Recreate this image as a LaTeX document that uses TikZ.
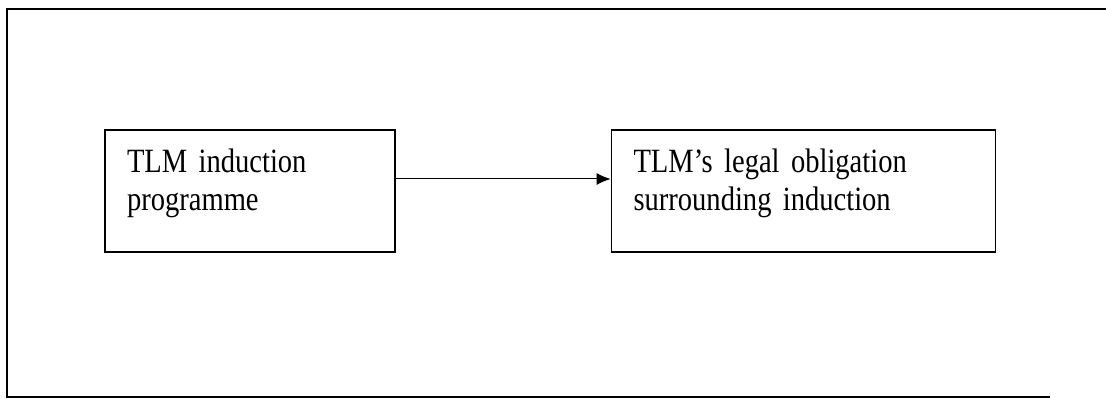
\documentclass[tikz,border=0pt]{standalone}
\usepackage{fontspec}
\setmainfont{Liberation Serif}[FakeStretch=0.84]
\usetikzlibrary{arrows.meta}

\begin{document}
\begin{tikzpicture}[x=0.5pt,y=-0.5pt,
  font=\fontsize{17}{19}\selectfont,
  box/.style={draw,line width=0.9pt,align=left,inner xsep=11pt,inner ysep=0pt,minimum height=61pt,text depth=30pt},
  arr/.style={-{Latex[length=7pt,width=6pt]},line width=0.5pt},
  frame/.style={line width=0.9pt}]
\useasboundingbox (0,0) rectangle (1106,399);
% outer frame, open on the right
\draw[frame] (1106,9) -- (7,9) -- (7,397) -- (1050,397);
\node[box,text width=123pt] (prog) at (250,191) {TLM induction\\programme};
\node[box,text width=170pt] (legal) at (803.5,191) {TLM's legal obligation\\surrounding induction};
\draw[arr] (prog.east |- 0,179) -- (legal.west |- 0,179);
\end{tikzpicture}
\end{document}
